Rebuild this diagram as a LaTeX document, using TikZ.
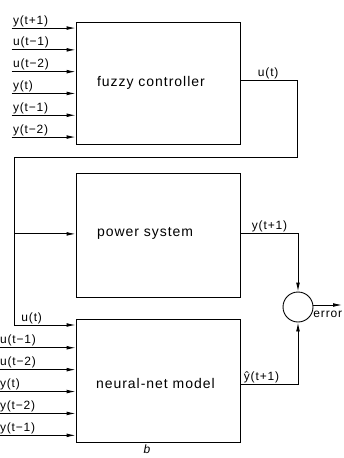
\documentclass[tikz,border=0pt]{standalone}
\usepackage{fontspec}
\newfontfamily\diafont{Liberation Sans}[LetterSpace=7]
\usetikzlibrary{arrows.meta,positioning}
\tikzset{%
  % blocks
  block/.style={draw, minimum width=164pt, minimum height=123pt, inner sep=0pt},
  blocktext/.style={font=\diafont\fontsize{14}{16}\selectfont, inner sep=0pt, anchor=west},
  % signals
  sig/.style={-{Latex[length=9pt,width=3.8pt]}},
  lbl/.style={font=\diafont\fontsize{12}{14}\selectfont, inner sep=1pt, anchor=south west},
  sumnode/.style={draw, circle, minimum size=30pt, inner sep=0pt},
}

\begin{document}
\begin{tikzpicture}[x=1pt, y=-1pt, line width=0.9pt]
  \useasboundingbox (0,0) rectangle (344,458);

  % Blocks
  \node[block, minimum height=122pt] (fuzzy) at (158,83) {};
  \node[block, below=29pt of fuzzy, minimum height=124pt] (plant) {};
  \node[block, below=21pt of plant] (model) {};
  \node[blocktext, right=21pt of fuzzy.west, anchor=west] (tfuzzy) {fuzzy controller};
  \node[blocktext, right=21pt of plant.west, anchor=west, yshift=2pt] (tplant) {power system};
  \node[blocktext, right=20pt of model.west, anchor=west, yshift=-2pt] (tmodel) {neural-net model};

  % Inputs of the controller
  \foreach \lab [count=\i from 0] in {y(t+1),u(t−1),u(t−2),y(t),y(t−1),y(t−2)} {
    \path (fuzzy.north west) ++(-64,6.5+21.8*\i) coordinate (fs\i) node[lbl] {\lab};
    \draw[sig] (fs\i) -- (fs\i -| fuzzy.west);
  }

  % Inputs of the model
  \foreach \lab [count=\i from 1] in {u(t−1),u(t−2),y(t),y(t−2),y(t−1)} {
    \path (model.north west) ++(-77,6.5+21.9*\i) coordinate (ms\i) node[lbl] {\lab};
    \draw[sig] (ms\i) -- (ms\i -| model.west);
  }

  % Sum point
  \node[sumnode] (sum) at (298,307) {};
  \coordinate (err) at (342,305);
  \draw[sig] (sum.east |- err) -- (err);
  \node[lbl, anchor=north west] (terr) at (312,310) {error};

  % Control signal u(t)
  \coordinate (uturn) at (297,157);
  \coordinate (uleft) at (14,157);
  \coordinate (ms0) at (14,325);
  \draw ([yshift=3pt]fuzzy.east) -| (uturn) -- (uleft) -- (ms0);
  \draw[sig] (ms0) -- (ms0 -| model.west);
  \draw[sig] (uleft |- tplant) -- (tplant -| plant.west);
  \node[lbl] (tu) at ([xshift=16pt, yshift=3pt]fuzzy.east) {u(t)};
  \node[lbl] (tu0) at ([xshift=6pt]ms0) {u(t)};

  % Outputs
  \draw[sig] (tplant -| plant.east) -| (sum.north);
  \node[lbl] (ty) at ([xshift=10pt]tplant -| plant.east) {y(t+1)};
  \draw[sig] ([yshift=-3.5pt]model.east) -| (sum.south);
  \node[lbl] (tyhat) at ([xshift=2pt, yshift=-3.5pt]model.east) {ŷ(t+1)};

  \node[font=\diafont\itshape\fontsize{12}{14}\selectfont] (cap) at (147,449) {b};
\end{tikzpicture}
\end{document}
